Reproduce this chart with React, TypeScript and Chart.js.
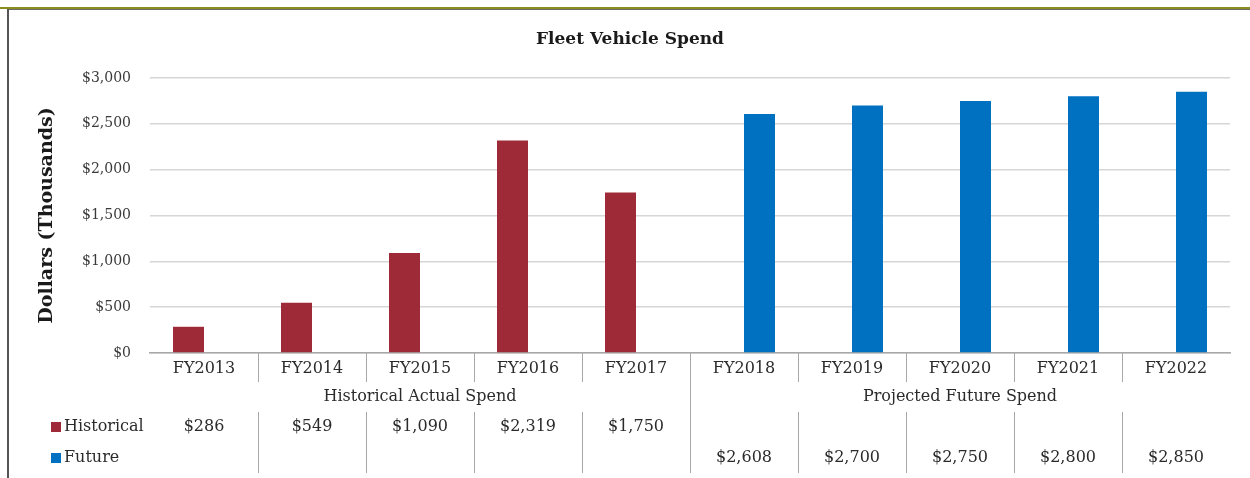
import React, { useEffect, useRef } from "react";
import { Chart, registerables } from "chart.js";

Chart.register(...registerables);

const categories = ["FY2013", "FY2014", "FY2015", "FY2016", "FY2017", "FY2018", "FY2019", "FY2020", "FY2021", "FY2022"];
const historical = [286, 549, 1090, 2319, 1750, null, null, null, null, null];
const future = [null, null, null, null, null, 2608, 2700, 2750, 2800, 2850];
const groupLabels = ["Historical Actual Spend", "Projected Future Spend"];
const groupSizes = [5, 5];
const seriesNames = ["Historical", "Future"];
const seriesColors = ["#9E2A37", "#0070C0"];
const yTicks = [0, 500, 1000, 1500, 2000, 2500, 3000];

const SERIF = "'DejaVu Serif', serif";

const fmt = (v: number) => "$" + v.toLocaleString("en-US");

const tablePlugin = {
  id: "tablePlugin",
  beforeDraw(chart: any) {
    const ctx = chart.ctx;
    ctx.save();
    ctx.fillStyle = "#ffffff";
    ctx.fillRect(0, 0, chart.width, chart.height);
    // frame
    ctx.fillStyle = "#8C8C1E";
    ctx.fillRect(0, 7, chart.width, 2);
    ctx.fillStyle = "#6b6b6b";
    ctx.fillRect(7, 9, chart.width - 7, 1);
    ctx.fillStyle = "#555555";
    ctx.fillRect(7, 9, 2, chart.height - 9);
    ctx.restore();
  },
  afterDraw(chart: any) {
    const ctx = chart.ctx;
    const xs = chart.scales.x;
    const area = chart.chartArea;
    const n = categories.length;
    const step = (xs.getPixelForValue(1) - xs.getPixelForValue(0));
    const edge = (i: number) => xs.getPixelForValue(i) - step / 2;
    ctx.save();
    // title
    ctx.fillStyle = "#1a1a1a";
    ctx.font = "bold 17px " + SERIF;
    ctx.textAlign = "center";
    ctx.textBaseline = "middle";
    ctx.fillText("Fleet Vehicle Spend", chart.width / 2 + 5, 40);

    // separators
    ctx.strokeStyle = "#a8a8a8";
    ctx.lineWidth = 1;
    let boundaries: number[] = [];
    let acc = 0;
    for (const s of groupSizes) { acc += s; boundaries.push(acc); }
    for (let i = 1; i < n; i++) {
      const x = Math.round(edge(i)) + 0.5;
      ctx.beginPath();
      if (boundaries.includes(i)) {
        ctx.moveTo(x, area.bottom);
        ctx.lineTo(x, 473);
      } else {
        ctx.moveTo(x, area.bottom);
        ctx.lineTo(x, 382);
        ctx.moveTo(x, 412);
        ctx.lineTo(x, 473);
      }
      ctx.stroke();
    }

    // group labels
    ctx.fillStyle = "#2b2b2b";
    ctx.font = "16px " + SERIF;
    let start = 0;
    groupLabels.forEach((g, gi) => {
      const end = start + groupSizes[gi];
      const cx = (edge(start) + edge(end)) / 2;
      ctx.fillText(g, cx, 397);
      start = end;
    });

    // table rows
    const rows = [historical, future];
    const rowY = [427, 458];
    rows.forEach((row, ri) => {
      ctx.fillStyle = seriesColors[ri];
      ctx.fillRect(51, rowY[ri] - 5, 10, 10);
      ctx.fillStyle = "#2b2b2b";
      ctx.textAlign = "left";
      ctx.fillText(seriesNames[ri], 64, rowY[ri]);
      ctx.textAlign = "center";
      row.forEach((v, i) => {
        if (v == null) return;
        ctx.fillText(fmt(v), xs.getPixelForValue(i), rowY[ri]);
      });
    });
    ctx.restore();
  },
};

export default function App() {
  const ref = useRef<HTMLCanvasElement>(null);
  useEffect(() => {
    if (!ref.current) return;
    const chart = new Chart(ref.current, {
      type: "bar",
      data: {
        labels: categories,
        datasets: [
          { label: seriesNames[0], data: historical, backgroundColor: seriesColors[0] },
          { label: seriesNames[1], data: future, backgroundColor: seriesColors[1] },
        ],
      },
      options: {
        responsive: false,
        animation: false,
        events: [],
        layout: { padding: { left: 0, right: 20, top: 78, bottom: 0 } },
        datasets: { bar: { categoryPercentage: 0.574, barPercentage: 1.0 } },
        plugins: {
          legend: { display: false },
          title: { display: false },
          tooltip: { enabled: false },
        },
        scales: {
          x: {
            grid: { display: false, drawTicks: false },
            border: { display: true, color: "#a8a8a8", width: 1.5 },
            ticks: { font: { family: SERIF, size: 16 }, color: "#2b2b2b", padding: 6, maxRotation: 0 },
            afterFit: (s: any) => { s.height = 125; },
          },
          y: {
            min: 0,
            max: 3000,
            afterBuildTicks: (s: any) => { s.ticks = yTicks.map((v) => ({ value: v })); },
            grid: { color: "#d6d6d6", lineWidth: 1.5, drawTicks: false },
            border: { display: false },
            ticks: {
              font: { family: SERIF, size: 14 },
              color: "#3a3a3a",
              padding: 19,
              callback: (v: any) => fmt(Number(v)),
            },
            title: {
              display: true,
              text: "Dollars (Thousands)",
              font: { family: SERIF, size: 19, weight: "bold" },
              color: "#1a1a1a",
              padding: { top: 36, bottom: 0 },
            },
            afterFit: (s: any) => { s.width = 150; },
          },
        },
      },
      plugins: [tablePlugin],
    });
    return () => chart.destroy();
  }, []);
  return (
    <div style={{ position: "fixed", left: 0, top: 0, width: 1250, height: 478, background: "#fff" }}>
      <canvas ref={ref} width={1250} height={478} style={{ display: "block" }} />
    </div>
  );
}
